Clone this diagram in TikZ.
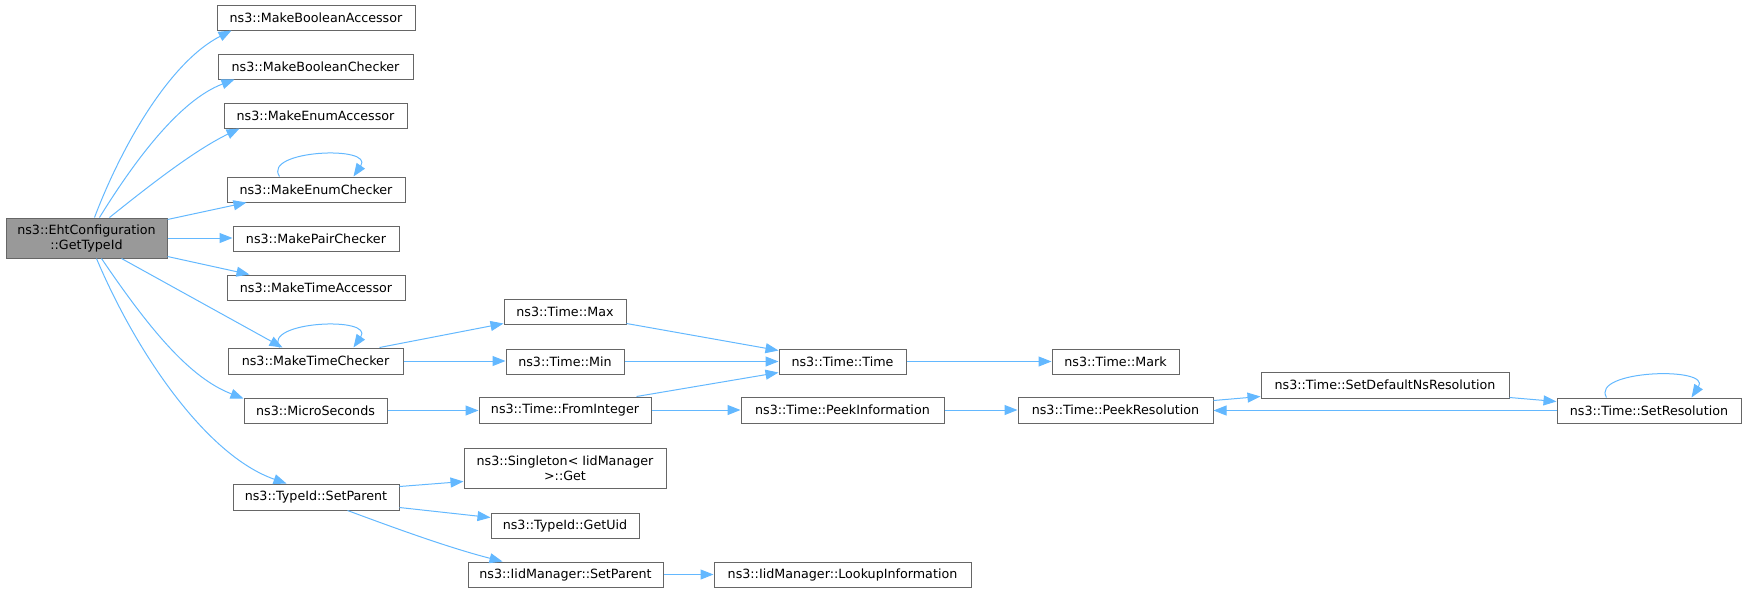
\documentclass[tikz,border=0pt]{standalone}
\usepackage{fontspec}
\setmainfont{DejaVu Sans}
\usetikzlibrary{arrows.meta,calc}
\definecolor{edgeblue}{HTML}{63B8FF}
\definecolor{boxgray}{HTML}{666666}
\definecolor{mainfill}{HTML}{999999}
\tikzset{
  fn/.style={draw=boxgray, line width=1pt, fill=white, inner sep=0pt,
    minimum height=25pt, align=center, text=black,
    font=\fontsize{12.7}{15}\selectfont},
  mainfn/.style={fn, fill=mainfill},
  call/.style={draw=edgeblue, line width=1pt, -{Triangle[length=13pt,width=10pt]}, fill=none},
}
\begin{document}
\begin{tikzpicture}[x=1pt,y=-1pt]
\useasboundingbox (0,0) rectangle (1747,592);
% nodes
\node[mainfn, minimum width=161pt, minimum height=40pt] (eht) at (86.5,238) {ns3::EhtConfiguration\\::GetTypeId};
\node[fn, minimum width=198pt] (mba) at (316,17.5) {ns3::MakeBooleanAccessor};
\node[fn, minimum width=195pt] (mbc) at (315.5,66.5) {ns3::MakeBooleanChecker};
\node[fn, minimum width=183pt] (mea) at (315.5,115.5) {ns3::MakeEnumAccessor};
\node[fn, minimum width=178pt] (mec) at (316,189.5) {ns3::MakeEnumChecker};
\node[fn, minimum width=166pt] (mpc) at (316,238.5) {ns3::MakePairChecker};
\node[fn, minimum width=178pt] (mta) at (316,287.5) {ns3::MakeTimeAccessor};
\node[fn, minimum width=175pt, minimum height=26pt] (mtc) at (315.5,361) {ns3::MakeTimeChecker};
\node[fn, minimum width=143pt] (mus) at (315.5,410.5) {ns3::MicroSeconds};
\node[fn, minimum width=166pt, minimum height=26pt] (tsp) at (316,497) {ns3::TypeId::SetParent};
\node[fn, minimum width=122pt] (tmax) at (565,311.5) {ns3::Time::Max};
\node[fn, minimum width=118pt] (tmin) at (565,361.5) {ns3::Time::Min};
\node[fn, minimum width=172pt, minimum height=26pt] (tfi) at (565,410) {ns3::Time::FromInteger};
\node[fn, minimum width=202pt, minimum height=40pt] (sing) at (565,468) {ns3::Singleton\textless{} IidManager\\\textgreater::Get};
\node[fn, minimum width=148pt] (guid) at (565,525.5) {ns3::TypeId::GetUid};
\node[fn, minimum width=195pt] (isp) at (565.5,574.5) {ns3::IidManager::SetParent};
\node[fn, minimum width=127pt] (ttime) at (842.5,361.5) {ns3::Time::Time};
\node[fn, minimum width=203pt, minimum height=26pt] (tpi) at (842.5,410) {ns3::Time::PeekInformation};
\node[fn, minimum width=257pt] (lookup) at (842.5,574.5) {ns3::IidManager::LookupInformation};
\node[fn, minimum width=127pt] (tmark) at (1115.5,361.5) {ns3::Time::Mark};
\node[fn, minimum width=195pt, minimum height=26pt] (tpr) at (1115.5,410) {ns3::Time::PeekResolution};
\node[fn, minimum width=248pt, minimum height=26pt] (sdns) at (1385,385) {ns3::Time::SetDefaultNsResolution};
\node[fn, minimum width=184pt] (tsr) at (1649,410.5) {ns3::Time::SetResolution};
% edges from GetTypeId
\draw[call] ($(eht.north west)+(89,0)$) .. controls (122,145) and (170,62) .. ($(mba.south west)+(15,0)$);
\draw[call] ($(eht.north west)+(94,0)$) .. controls (135,160) and (180,100) .. ($(mbc.south west)+(17,0)$);
\draw[call] ($(eht.north west)+(104,0)$) .. controls (150,185) and (195,150) .. ($(mea.south west)+(16,0)$);
\draw[call] ($(eht.north east)+(0,2)$) -- ($(mec.south west)+(20,0)$);
\draw[call] (eht.east) -- (eht.east -| mpc.west);
\draw[call] ($(eht.south east)+(0,-2)$) -- ($(mta.north west)+(23,0)$);
\draw[call] ($(eht.south west)+(116,0)$) -- ($(mtc.north west)+(55,0)$);
\draw[call] ($(eht.south west)+(96,0)$) .. controls (150,330) and (190,378) .. ($(mus.north west)+(0,1)$);
\draw[call] ($(eht.south west)+(91,0)$) .. controls (135,350) and (205,455) .. ($(tsp.north west)+(54,0)$);
% self loops
\draw[call] ($(mec.north west)+(53,0)$) .. controls (262,150) and (375,145) .. ($(mec.north west)+(127,0)$);
\draw[call] ($(mtc.north west)+(52,0)$) .. controls (262,321) and (375,316) .. ($(mtc.north west)+(126,0)$);
\draw[call] ($(tsr.north west)+(50,0)$) .. controls (1590,370) and (1712,366) .. ($(tsr.north west)+(135,0)$);
% other edges
\draw[call] ($(mtc.north west)+(152,0)$) -- ($(tmax.south west)+(0,-1)$);
\draw[call] (mtc.east) -- (mtc.east -| tmin.west);
\draw[call] ($(tmax.south east)+(0,-1)$) -- ($(ttime.north west)+(0,2)$);
\draw[call] (tmin.east) -- (tmin.east -| ttime.west);
\draw[call] ($(tfi.north east)+(-15,0)$) -- ($(ttime.south west)+(0,-2)$);
\draw[call] (mus.east) -- (mus.east -| tfi.west);
\draw[call] (tfi.east) -- (tfi.east -| tpi.west);
\draw[call] (ttime.east) -- (ttime.east -| tmark.west);
\draw[call] (tpi.east) -- (tpi.east -| tpr.west);
\draw[call] ($(tpr.north east)+(0,4)$) -- ($(sdns.south west)+(0,-2)$);
\draw[call] ($(sdns.south east)+(0,-1)$) -- ($(tsr.north west)+(0,4)$);
\draw[call] (tsr.west) -- (tsr.west -| tpr.east);
\draw[call] ($(tsp.north east)+(0,3)$) -- ($(sing.south west)+(0,-7)$);
\draw[call] ($(tsp.south east)+(0,-3)$) -- ($(guid.north west)+(0,5)$);
\draw[call] ($(tsp.south west)+(115,0)$) .. controls (400,530) and (450,548) .. ($(isp.north west)+(35,0)$);
\draw[call] (isp.east) -- (isp.east -| lookup.west);
\end{tikzpicture}
\end{document}
